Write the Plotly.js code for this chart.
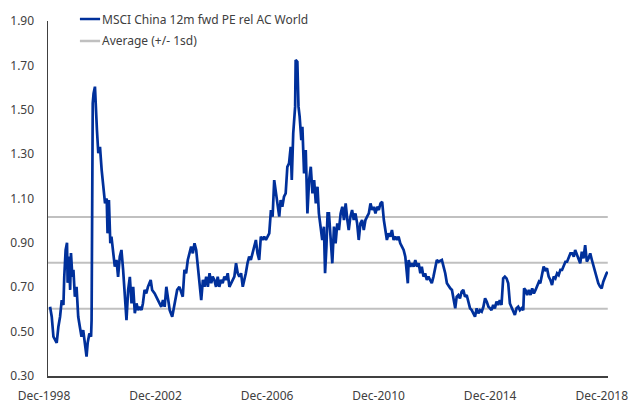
<!DOCTYPE html>
<html>
<head>
<meta charset="utf-8">
<script src="https://cdn.plot.ly/plotly-3.0.1.min.js"></script>
<style>html,body{margin:0;padding:0;background:#fff;}#chart{width:633px;height:405px;}</style>
</head>
<body>
<div id="chart"></div>
<script>
// Decimal-year dates of the readings and the relative PE values
const years = [
1998.99,1999.05,1999.11,1999.23,1999.29,1999.35,1999.41,1999.47,1999.50,1999.55,1999.60,1999.62,1999.67,1999.71,1999.74,1999.79,1999.83,1999.88,1999.94,
2000.00,2000.06,2000.12,2000.18,2000.24,2000.30,2000.34,2000.40,2000.46,2000.48,2000.52,2000.55,2000.60,2000.64,2000.67,2000.72,2000.78,2000.84,2000.90,2000.96,
2001.02,2001.05,2001.10,2001.15,2001.19,2001.25,2001.31,2001.37,2001.43,2001.49,2001.55,2001.61,2001.67,2001.73,2001.79,2001.85,2001.91,2001.97,
2002.03,2002.09,2002.15,2002.21,2002.27,2002.32,2002.38,2002.44,2002.50,2002.60,2002.65,2002.74,2002.86,2002.92,2002.98,
2003.04,2003.10,2003.16,2003.22,2003.28,2003.37,2003.46,2003.55,
2003.63,2003.75,2003.81,2003.87,2003.93,2003.99,2004.05,2004.11,2004.17,2004.23,2004.29,2004.35,2004.41,2004.47,2004.53,2004.59,2004.65,2004.71,2004.77,2004.82,2004.88,2004.94,
2005.00,2005.06,2005.12,2005.18,2005.24,2005.30,2005.36,2005.42,2005.48,2005.54,2005.60,2005.66,2005.72,2005.78,2005.84,2005.90,2005.96,
2006.01,2006.07,2006.13,2006.19,2006.25,2006.31,2006.37,2006.43,2006.49,2006.55,2006.61,2006.67,2006.73,2006.79,2006.85,2006.91,2006.97,
2007.03,2007.09,2007.15,2007.21,2007.26,2007.32,2007.38,2007.44,2007.50,2007.56,2007.62,2007.66,2007.71,2007.74,2007.78,2007.80,2007.86,2007.90,2007.94,
2008.00,2008.04,2008.10,2008.16,2008.22,2008.28,2008.34,2008.40,2008.46,2008.52,2008.58,2008.63,2008.69,2008.75,2008.81,2008.85,2008.90,2008.94,
2008.99,2009.05,2009.11,2009.17,2009.23,2009.29,2009.35,2009.41,2009.47,2009.53,2009.59,2009.65,2009.70,2009.76,2009.82,2009.88,2009.94,
2010.00,2010.06,2010.12,2010.18,2010.24,2010.30,2010.36,2010.42,2010.48,2010.54,2010.60,2010.66,2010.72,2010.78,2010.84,2010.90,2010.96,
2011.02,2011.07,2011.13,2011.19,2011.25,2011.31,2011.37,2011.43,2011.49,2011.55,2011.61,2011.67,2011.73,2011.79,2011.82,2011.85,2011.91,2011.97,
2012.03,2012.09,2012.15,2012.21,2012.27,2012.32,2012.38,2012.44,2012.50,2012.56,2012.62,2012.68,2012.74,2012.80,2012.86,
2012.92,2013.04,2013.10,2013.16,2013.22,2013.28,2013.34,2013.40,2013.46,2013.52,2013.57,2013.63,2013.69,2013.75,2013.81,2013.87,2013.93,2013.99,
2014.05,2014.11,2014.17,2014.23,2014.29,2014.35,2014.41,2014.47,2014.53,2014.59,2014.65,2014.71,2014.77,2014.82,2014.88,2014.94,
2015.00,2015.06,2015.12,2015.18,2015.24,2015.30,2015.36,2015.42,2015.48,2015.54,2015.60,2015.66,2015.72,2015.78,2015.84,2015.90,2015.96,2015.99,
2016.04,2016.10,2016.16,2016.22,2016.28,2016.34,2016.40,2016.46,2016.52,2016.57,2016.63,2016.69,2016.75,2016.81,2016.87,2016.93,2016.99,
2017.05,2017.11,2017.17,2017.23,2017.29,2017.35,2017.41,2017.47,2017.53,2017.59,2017.65,2017.71,2017.77,2017.82,2017.88,2017.94,
2018.00,2018.06,2018.12,2018.18,2018.24,2018.30,2018.36,2018.42,2018.48,2018.54,2018.60,2018.65,2018.71,2018.77,2018.83,2018.89,2018.95,2018.99
];
const relPE = [
0.612,0.567,0.477,0.449,0.522,0.567,0.642,0.620,0.747,0.868,0.900,0.720,0.838,0.688,0.854,0.747,0.778,0.657,0.702,
0.567,0.522,0.477,0.507,0.432,0.387,0.450,0.492,0.477,0.552,1.529,1.574,1.604,1.469,1.409,1.304,1.333,1.228,1.138,1.078,
1.100,0.943,1.093,0.898,0.928,0.868,0.793,0.823,0.747,0.838,0.868,0.778,0.657,0.552,0.688,0.747,0.627,0.702,
0.583,0.627,0.597,0.612,0.597,0.627,0.688,0.672,0.702,0.733,0.688,0.672,0.642,0.627,0.612,
0.642,0.612,0.702,0.642,0.597,0.567,0.627,0.688,
0.702,0.657,0.778,0.763,0.823,0.853,0.883,0.853,0.898,0.868,0.793,0.702,0.642,0.733,0.702,0.748,0.702,0.763,0.718,0.748,0.733,0.702,
0.748,0.702,0.733,0.718,0.748,0.733,0.763,0.702,0.718,0.733,0.748,0.808,0.763,0.748,0.763,0.702,0.733,
0.763,0.808,0.838,0.823,0.853,0.883,0.913,0.853,0.823,0.928,0.913,0.928,0.913,0.928,0.943,1.048,1.018,
1.183,1.123,1.063,1.018,1.093,1.063,1.108,1.123,1.243,1.258,1.333,1.183,1.393,1.438,1.514,1.724,1.716,1.514,1.469,
1.363,1.423,1.213,1.318,1.033,1.183,1.243,1.123,1.183,1.078,1.153,1.033,0.973,0.913,0.973,0.763,0.883,1.033,
1.033,0.913,0.808,0.973,0.898,0.988,0.958,1.033,1.063,1.003,1.078,1.003,0.958,1.018,1.048,1.003,1.033,
0.988,0.913,0.988,1.003,0.958,1.003,1.018,1.033,1.078,1.048,1.063,1.033,1.063,1.048,1.078,1.085,1.003,
0.958,0.913,0.943,0.928,0.958,0.913,0.928,0.913,0.928,0.898,0.883,0.868,0.838,0.763,0.718,0.823,0.793,0.808,
0.793,0.823,0.793,0.808,0.763,0.793,0.748,0.763,0.733,0.748,0.733,0.718,0.748,0.793,0.823,
0.815,0.823,0.793,0.763,0.718,0.703,0.695,0.688,0.642,0.605,0.657,0.665,0.650,0.680,0.688,0.657,0.665,0.627,
0.605,0.597,0.582,0.567,0.605,0.582,0.597,0.590,0.612,0.650,0.635,0.612,0.605,0.597,0.620,0.605,
0.635,0.620,0.642,0.620,0.740,0.748,0.740,0.718,0.627,0.612,0.597,0.575,0.605,0.612,0.597,0.605,0.597,0.695,
0.688,0.665,0.688,0.665,0.695,0.672,0.688,0.710,0.725,0.718,0.763,0.793,0.778,0.785,0.748,0.733,0.710,
0.748,0.740,0.763,0.755,0.778,0.778,0.800,0.815,0.815,0.838,0.853,0.853,0.838,0.868,0.845,0.823,
0.808,0.860,0.830,0.890,0.815,0.830,0.853,0.823,0.793,0.763,0.748,0.718,0.703,0.695,0.725,0.748,0.763,0.770
];
const avgValue = 0.81;
const upperBand = 1.017;
const lowerBand = 0.603;
const tickDates = ['1998-12-01','2002-12-01','2006-12-01','2010-12-01','2014-12-01','2018-12-01'];
const tickLabels = ['Dec-1998','Dec-2002','Dec-2006','Dec-2010','Dec-2014','Dec-2018'];
const yTicks = [0.30,0.50,0.70,0.90,1.10,1.30,1.50,1.70,1.90];
const seriesName = 'MSCI China 12m fwd PE rel AC World';
const avgName = 'Average (+/- 1sd)';

function toDate(y){
  const yr = Math.floor(y);
  const s = Date.UTC(yr,0,1), e = Date.UTC(yr+1,0,1);
  return new Date(s + (y-yr)*(e-s)).toISOString().slice(0,10);
}
const dates = years.map(toDate);
const xStart = '1998-12-01', xEnd = dates[dates.length-1];

const BLUE = '#00309b', GREY = '#c0c0c0', TXT = '#404040';
const FONT = 'Noto Sans, Open Sans, sans-serif';

const band = (v) => ({x:[xStart,xEnd], y:[v,v], mode:'lines', line:{color:GREY,width:2}, showlegend:false, hoverinfo:'skip'});
const traces = [
  band(upperBand), band(avgValue), band(lowerBand),
  {x:dates, y:relPE, mode:'lines', name:seriesName, line:{color:BLUE,width:2.7}, showlegend:false}
];

const layout = {
  width:633, height:405,
  margin:{l:48, r:25, t:21, b:29, pad:0},
  paper_bgcolor:'#fff', plot_bgcolor:'#fff',
  font:{family:FONT, size:12, color:TXT},
  showlegend:false,
  xaxis:{type:'date', range:[xStart,'2018-12-31'], tickmode:'array', tickvals:tickDates, ticktext:tickLabels,
    showgrid:false, zeroline:false, showline:true, linecolor:'#404040', linewidth:1.5, ticks:'',
    ticklabelstandoff:8, ticklabelshift:-4, tickfont:{size:12,color:TXT}},
  yaxis:{range:[0.30,1.90], tickmode:'array', tickvals:yTicks, tickformat:'.2f',
    showgrid:false, zeroline:false, showline:true, linecolor:'#404040', linewidth:1.5, ticks:'',
    ticklabelstandoff:10, tickfont:{size:12,color:TXT}},
  shapes:[
    {type:'line', xref:'paper', yref:'paper', x0:0.057, x1:0.093, y0:1.0056, y1:1.0056, line:{color:BLUE,width:2.5}},
    {type:'line', xref:'paper', yref:'paper', x0:0.057, x1:0.093, y0:0.9437, y1:0.9437, line:{color:GREY,width:2.5}}
  ],
  annotations:[
    {xref:'paper', yref:'paper', x:0.092, y:1.0056, xanchor:'left', yanchor:'middle', text:seriesName, showarrow:false, font:{size:12,color:TXT}},
    {xref:'paper', yref:'paper', x:0.092, y:0.9437, xanchor:'left', yanchor:'middle', text:avgName, showarrow:false, font:{size:12,color:TXT}}
  ]
};
Plotly.newPlot('chart', traces, layout, {staticPlot:true, displayModeBar:false});
</script>
</body>
</html>
